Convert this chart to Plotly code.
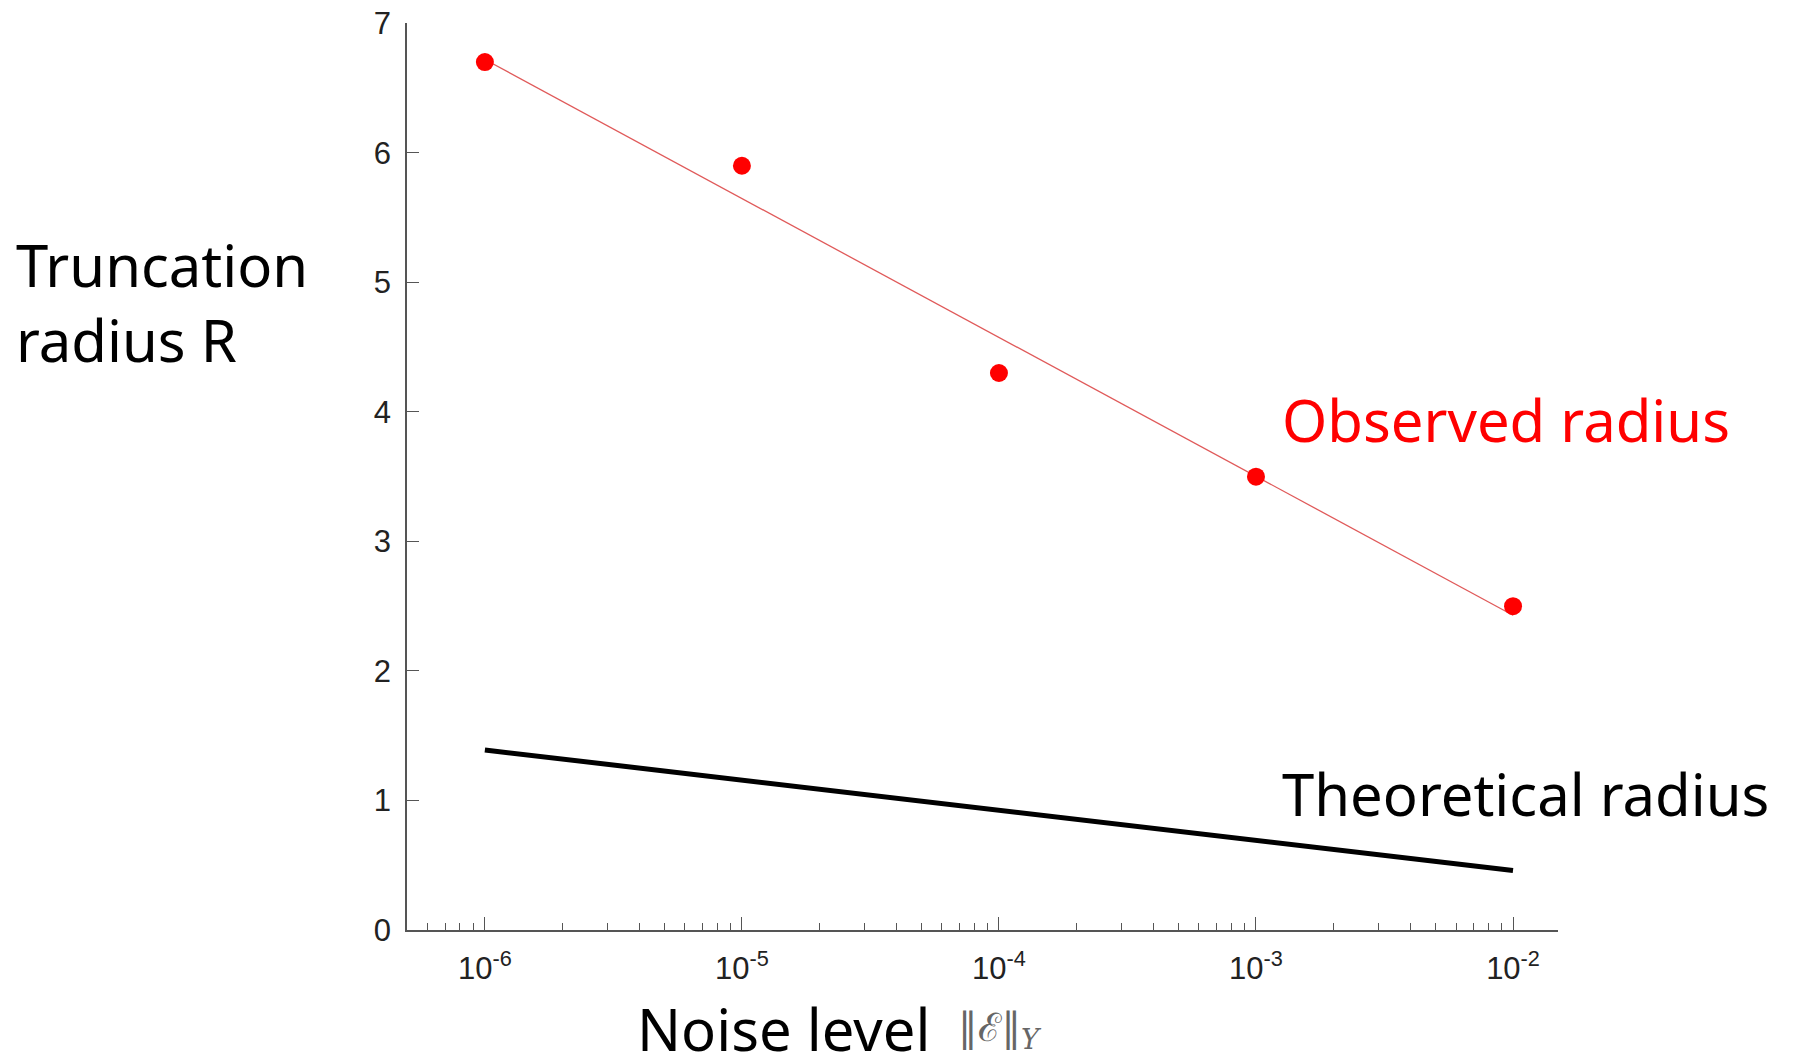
import plotly.graph_objects as go

# Data
noise_levels = [1e-6, 1e-5, 1e-4, 1e-3, 1e-2]
observed_radius = [6.7, 5.9, 4.3, 3.5, 2.5]
fit_x = [1e-6, 1e-2]
fit_y = [6.72, 2.43]
theory_x = [1e-6, 1e-2]
theory_y = [1.39, 0.46]
y_ticks = [0, 1, 2, 3, 4, 5, 6, 7]
x_tickvals = [1e-6, 1e-5, 1e-4, 1e-3, 1e-2]
x_ticktext = ["10<sup>-6</sup>", "10<sup>-5</sup>", "10<sup>-4</sup>", "10<sup>-3</sup>", "10<sup>-2</sup>"]

OFF = 8  # default page body margin
W, H = 1793 - OFF, 1056 - OFF
# plot area in page pixels: x 407..1558, y 23..930
L = 407 - OFF
T = 23 - OFF
R = W - (1558 - OFF)
B = H - (930 - OFF)
pw, ph = W - L - R, H - T - B

def px_x(p):
    return (p - OFF - L) / pw

def px_y(p):
    return (H - B - (p - OFF)) / ph

axis_col = "#555555"
label_font = dict(family="Liberation Sans, Arial, sans-serif", size=31, color="#222222")
big_font = "Noto Sans, Open Sans, sans-serif"

fig = go.Figure()
fig.add_trace(go.Scatter(x=fit_x, y=fit_y, mode="lines",
                         line=dict(color="#e05a5a", width=1.3), showlegend=False, hoverinfo="skip"))
fig.add_trace(go.Scatter(x=theory_x, y=theory_y, mode="lines",
                         line=dict(color="#000000", width=5), showlegend=False))
fig.add_trace(go.Scatter(x=noise_levels, y=observed_radius, mode="markers",
                         marker=dict(color="#ff0000", size=18, line=dict(width=0)), showlegend=False))

fig.update_layout(
    width=W, height=H,
    margin=dict(l=L, r=R, t=T, b=B, autoexpand=False),
    paper_bgcolor="white", plot_bgcolor="white",
    showlegend=False,
    xaxis=dict(
        type="log", range=[-6.303, -1.825], automargin=False,
        tickvals=x_tickvals, ticktext=x_ticktext,
        ticks="inside", ticklen=13, tickwidth=1.3, tickcolor=axis_col,
        showline=True, linecolor=axis_col, linewidth=1.5,
        showgrid=False, zeroline=False,
        tickfont=label_font, ticklabelstandoff=10, ticklabeloverflow="allow",
        minor=dict(ticks="inside", ticklen=7, tickwidth=1.2, tickcolor=axis_col,
                   dtick="D1", showgrid=False),
    ),
    yaxis=dict(
        range=[0, 7.002], tickvals=y_ticks, automargin=False,
        ticks="inside", ticklen=12, tickwidth=1.3, tickcolor=axis_col,
        showline=True, linecolor=axis_col, linewidth=1.5,
        showgrid=False, zeroline=False,
        tickfont=label_font, ticklabelstandoff=8, ticklabeloverflow="allow",
    ),
    annotations=[
        dict(text="Truncation<br>radius R", xref="paper", yref="paper",
             x=px_x(14), y=px_y(302), xanchor="left", yanchor="middle", align="left",
             showarrow=False, font=dict(family=big_font, size=58, color="black")),
        dict(text="Observed radius", xref="paper", yref="paper",
             x=px_x(1280), y=px_y(419), xanchor="left", yanchor="middle",
             showarrow=False, font=dict(family=big_font, size=58, color="#ff0000")),
        dict(text="Theoretical radius", xref="paper", yref="paper",
             x=px_x(1280), y=px_y(793), xanchor="left", yanchor="middle",
             showarrow=False, font=dict(family=big_font, size=58, color="black")),
        dict(text="Noise level", xref="paper", yref="paper",
             x=px_x(635), y=px_y(1029), xanchor="left", yanchor="middle",
             showarrow=False, font=dict(family=big_font, size=58, color="black")),
        dict(text="‖ℰ‖<sub><i>Y</i></sub>", xref="paper", yref="paper",
             x=px_x(956), y=px_y(1030), xanchor="left", yanchor="middle",
             showarrow=False, font=dict(family="DejaVu Serif, Liberation Serif, serif", size=39, color="#666666")),
    ],
)

fig.write_html("out.html")
